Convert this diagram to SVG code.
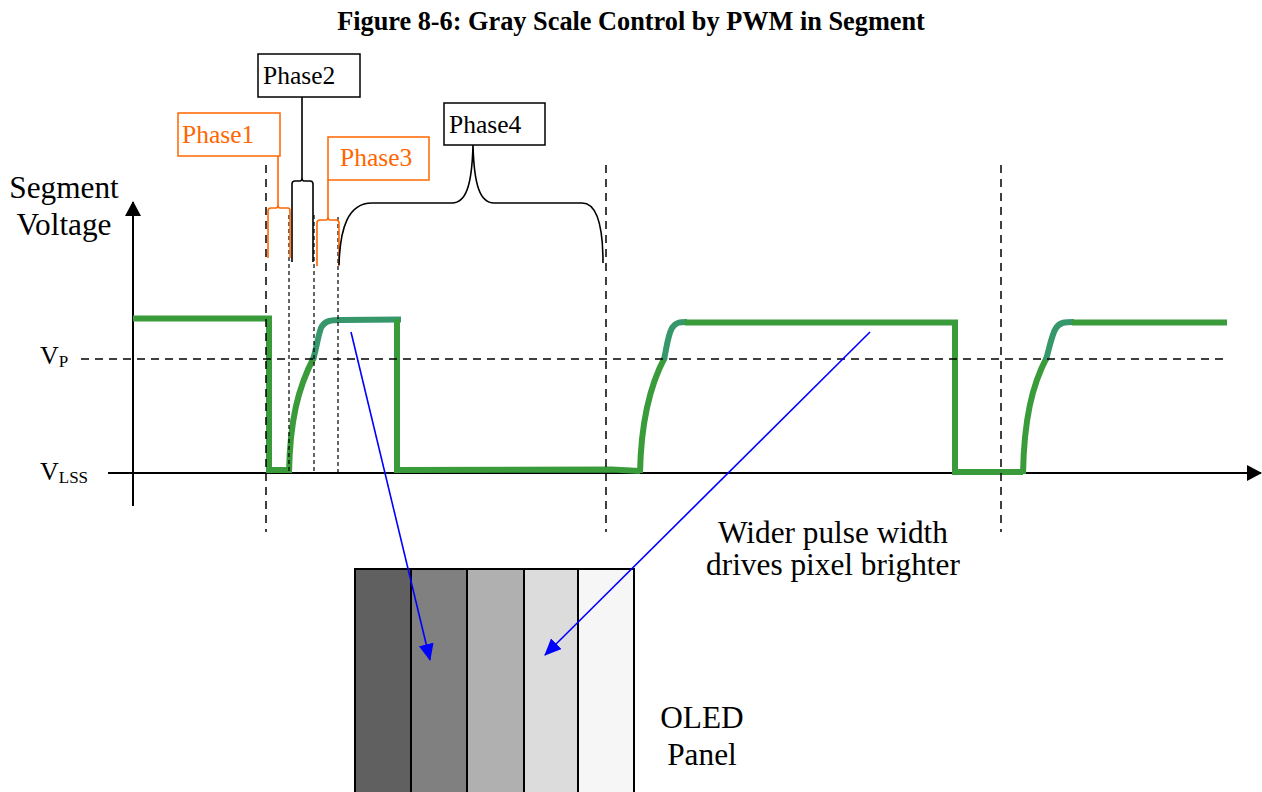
<svg xmlns="http://www.w3.org/2000/svg" width="1262" height="792" viewBox="0 0 1262 792">
<style>
text{font-family:"Liberation Serif","Times New Roman",serif;fill:#000}
.title{font-weight:bold;font-size:26.3px}
.big{font-size:31.3px}
.ph{font-size:25.5px}
.or{fill:#ff6600}
.box{fill:#fff;stroke:#000;stroke-width:1.5}
.obox{fill:#fff;stroke:#ff6600;stroke-width:1.5}
.brace{fill:none;stroke:#000;stroke-width:1.6}
.obrace{fill:none;stroke:#ff6600;stroke-width:1.6}
.axis{stroke:#000;stroke-width:2;fill:none}
.green{fill:none;stroke:#3a9b3a;stroke-width:6;stroke-linejoin:miter}
.teal{fill:none;stroke:#35976a;stroke-width:6}
.dashM{stroke:#000;stroke-width:1.5;stroke-dasharray:8 6;fill:none}
.dashS{stroke:#000;stroke-width:1.2;stroke-dasharray:4 3;fill:none}
.blue{stroke:#0000ff;stroke-width:1.6;fill:none}
.col{stroke:#000;stroke-width:2}
</style>
<defs>
<marker id="ah" markerWidth="17" markerHeight="15" refX="16" refY="7.5" orient="auto" markerUnits="userSpaceOnUse"><path d="M0,0 L17,7.5 L0,15 z" fill="#0000ff"/></marker>
<marker id="axh" markerWidth="15" markerHeight="16" refX="14" refY="8" orient="auto" markerUnits="userSpaceOnUse"><path d="M0,0 L15,8 L0,16 z" fill="#000"/></marker>
</defs>
<rect width="1262" height="792" fill="#fff"/>
<text class="title" x="631" y="30" text-anchor="middle">Figure 8-6: Gray Scale Control by PWM in Segment</text>

<g id="y-axis-label">
<text class="big" x="64" y="198" text-anchor="middle">Segment</text>
<text class="big" x="64" y="235" text-anchor="middle">Voltage</text>
</g>
<g id="vp-label"><text x="40" y="364" font-size="26">V<tspan font-size="17" dy="3">P</tspan></text></g>
<g id="vlss-label"><text x="40" y="480" font-size="26">V<tspan font-size="17" dy="3">LSS</tspan></text></g>

<g id="axes">
<line class="axis" x1="133" y1="506" x2="133" y2="202" marker-end="url(#axh)"/>
<line class="axis" x1="108" y1="473" x2="1261" y2="473" marker-end="url(#axh)"/>
</g>

<g id="waveform">
<path class="green" d="M133 318.5 L269 318.5 L269 470 L288 470"/>
<path class="green" d="M289 473 C290 420 298 388 314 357"/>
<path class="teal" d="M313 360 C317 346 318 336 321 328 C325 320 332 320 341 320 L401 319.5"/>
<path class="green" d="M397 319 L397 470 L612 469.5 L640 471"/>
<path class="green" d="M640 473 C641 420 650 385 665 357"/>
<path class="teal" d="M664 360 C667 345 668 335 672 328 C676 322 680 322 687 322"/>
<path class="green" d="M685 322.5 L955 322.5 L955 472 L1023 472"/>
<path class="green" d="M1023 474 C1024 420 1032 385 1047 357"/>
<path class="teal" d="M1046 360 C1050 345 1052 334 1056 328 C1060 322 1065 322 1074 322"/>
<path class="green" d="M1072 322.5 L1227 322.5"/>
</g>

<g id="guides">
<line class="dashM" x1="81" y1="359" x2="1223" y2="359"/>
<line class="dashM" x1="266" y1="165" x2="266" y2="532"/>
<line class="dashS" x1="289" y1="215" x2="289" y2="473"/>
<line class="dashS" x1="314" y1="215" x2="314" y2="473"/>
<line class="dashS" x1="338" y1="217" x2="338" y2="473"/>
<line class="dashM" x1="606" y1="165" x2="606" y2="532"/>
<line class="dashM" x1="1001" y1="165" x2="1001" y2="532"/>
</g>

<g id="phase1">
<path class="obrace" d="M268 258 L268 211 Q268 208 271 208 L276 208 Q278 208 278 204 L278 156 M278 204 Q278 208 280 208 L288 208 Q290 208 290 211 L290 258"/>
<rect class="obox" x="178" y="113" width="102" height="43"/>
<text class="ph or" x="182" y="143">Phase1</text>
</g>
<g id="phase2">
<path class="brace" d="M292 262 L292 184 Q292 181 295 181 L300 181 Q302 181 302 177 L302 97 M302 177 Q302 181 304 181 L310 181 Q313 181 313 184 L313 262"/>
<rect class="box" x="258" y="54" width="102" height="43"/>
<text class="ph" x="263" y="84">Phase2</text>
</g>
<g id="phase3">
<path class="obrace" d="M317 266 L317 223 Q317 220 320 220 L326 220 Q328 220 328 216 L328 180 M328 216 Q328 220 330 220 L336 220 Q339 220 339 223 L339 266"/>
<rect class="obox" x="328" y="137" width="101" height="43"/>
<text class="ph or" x="340" y="166">Phase3</text>
</g>
<g id="phase4">
<path class="brace" d="M339 265 C340 228 348 203 372 203 L452 203 C466 203 472 185 473 145 C474 185 480 203 494 203 L582 203 C598 203 603 230 603 263"/>
<rect class="box" x="444" y="103" width="101" height="42"/>
<text class="ph" x="449" y="133">Phase4</text>
</g>

<g id="oled-panel">
<rect x="355" y="569" width="56" height="240" fill="#606060"/>
<rect x="411" y="569" width="56" height="240" fill="#808080"/>
<rect x="467" y="569" width="57" height="240" fill="#b0b0b0"/>
<rect x="524" y="569" width="54" height="240" fill="#dcdcdc"/>
<rect x="578" y="569" width="56" height="240" fill="#f6f6f6"/>
<path class="col" fill="none" d="M355 810 L355 569 L634 569 L634 810 M411 569 L411 810 M467 569 L467 810 M524 569 L524 810 M578 569 L578 810"/>
</g>
<g id="oled-label">
<text class="big" x="702" y="728" text-anchor="middle">OLED</text>
<text class="big" x="702" y="765" text-anchor="middle">Panel</text>
</g>
<g id="note">
<text class="big" x="833" y="543" text-anchor="middle">Wider pulse width</text>
<text class="big" x="833" y="575" text-anchor="middle">drives pixel brighter</text>
</g>

<g id="connectors">
<line class="blue" x1="351" y1="332" x2="430" y2="660" marker-end="url(#ah)"/>
<line class="blue" x1="870" y1="332" x2="545" y2="655" marker-end="url(#ah)"/>
</g>
</svg>
